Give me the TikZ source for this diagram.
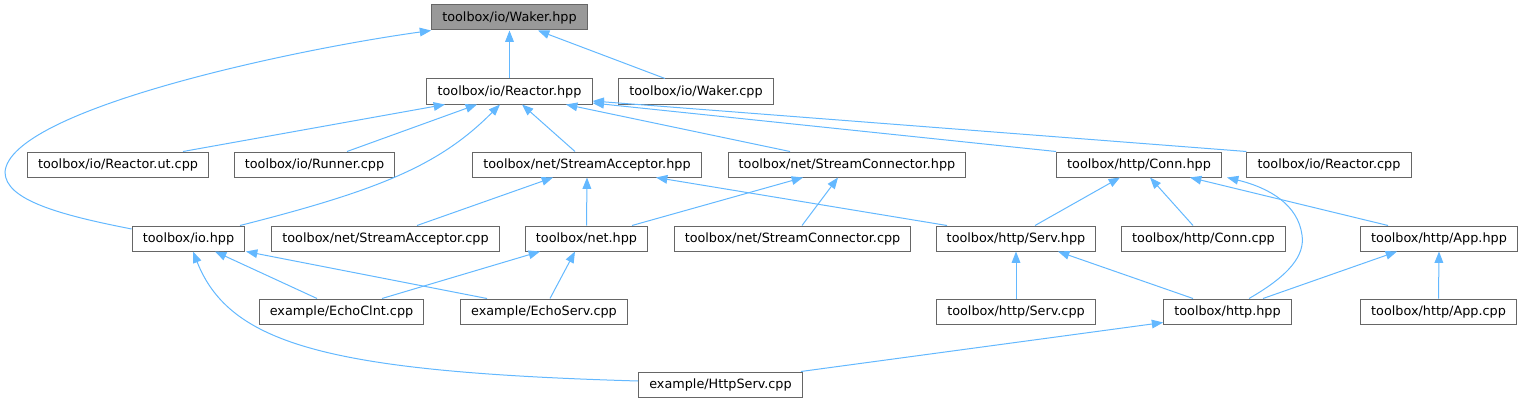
\documentclass[tikz,border=0pt]{standalone}
\usepackage{fontspec}
\setmainfont{DejaVu Sans}
\usetikzlibrary{arrows.meta,calc}
\definecolor{edgeblue}{HTML}{63B8FF}
\definecolor{boxgrey}{HTML}{666666}
\definecolor{rootgrey}{HTML}{999999}

\begin{document}
\begin{tikzpicture}[x=0.75pt, y=-0.75pt,
        fileBox/.style={draw=boxgrey, fill=white, line width=0.75pt, font=\fontsize{9.6}{11}\selectfont, inner xsep=8pt, inner ysep=0pt, minimum height=18.75pt},
        rootBox/.style={fileBox, fill=rootgrey},
        depArrow/.style={-{Triangle[length=8.5pt, width=6.5pt]}, draw=edgeblue, line width=0.75pt}
    ]
        \useasboundingbox (0,0) rectangle (1526,403);

        % Root
        \node[rootBox] (waker) at (509.5, 17.5) {toolbox/io/Waker.hpp};

        % Level 1
        \node[fileBox] (reactor) at (509.5, 91.5) {toolbox/io/Reactor.hpp};
        \node[fileBox] (wakerCpp) at (696, 91.5) {toolbox/io/Waker.cpp};

        % Level 2
        \node[fileBox] (reactorUt) at (118, 164.5) {toolbox/io/Reactor.ut.cpp};
        \node[fileBox] (runner) at (314.5, 164.5) {toolbox/io/Runner.cpp};
        \node[fileBox] (acceptor) at (587, 164.5) {toolbox/net/StreamAcceptor.hpp};
        \node[fileBox] (connector) at (847, 164.5) {toolbox/net/StreamConnector.hpp};
        \node[fileBox] (conn) at (1139, 164.5) {toolbox/http/Conn.hpp};
        \node[fileBox] (reactorCpp) at (1329, 164.5) {toolbox/io/Reactor.cpp};

        % Level 3
        \node[fileBox] (io) at (188.5, 238.5) {toolbox/io.hpp};
        \node[fileBox] (acceptorCpp) at (385.5, 238.5) {toolbox/net/StreamAcceptor.cpp};
        \node[fileBox] (net) at (586.5, 238.5) {toolbox/net.hpp};
        \node[fileBox] (connectorCpp) at (792.5, 238.5) {toolbox/net/StreamConnector.cpp};
        \node[fileBox] (serv) at (1016, 238.5) {toolbox/http/Serv.hpp};
        \node[fileBox] (connCpp) at (1203.5, 238.5) {toolbox/http/Conn.cpp};
        \node[fileBox] (app) at (1439, 238.5) {toolbox/http/App.hpp};

        % Level 4
        \node[fileBox] (echoClnt) at (341.5, 311.5) {example/EchoClnt.cpp};
        \node[fileBox] (echoServ) at (544, 311.5) {example/EchoServ.cpp};
        \node[fileBox] (servCpp) at (1016, 311.5) {toolbox/http/Serv.cpp};
        \node[fileBox] (http) at (1227.5, 311.5) {toolbox/http.hpp};
        \node[fileBox] (appCpp) at (1438.5, 311.5) {toolbox/http/App.cpp};

        % Level 5
        \node[fileBox] (httpServ) at (720.5, 384.5) {example/HttpServ.cpp};

        % Includes of Waker.hpp
        \draw[depArrow] (reactor.north) -- (waker.south);
        \draw[depArrow] ($(wakerCpp.north)+(-31,0)$) -- ($(waker.south)+(28.5,0)$);
        \draw[depArrow] ($(io.west)+(0,-9.5)$) .. controls (60,215) and (5,200) .. (5,172)
            .. controls (10,110) and (290,50) .. (waker.south west);

        % Includes of Reactor.hpp
        \draw[depArrow] ($(reactorUt.north)+(65,0)$) -- ($(reactor.south)+(-64.5,0)$);
        \draw[depArrow] ($(runner.north)+(32.5,0)$) -- ($(reactor.south)+(-32.5,0)$);
        \draw[depArrow] ($(acceptor.north)+(-12,0)$) -- ($(reactor.south)+(12.5,0)$);
        \draw[depArrow] ($(connector.north)+(-57,0)$) -- ($(reactor.south)+(56.5,0)$);
        \draw[depArrow] (conn.north west) -- ($(reactor.east)+(0,11.5)$);
        \draw[depArrow] (reactorCpp.north west) -- ($(reactor.east)+(0,9.5)$);
        \draw[depArrow] ($(io.north)+(51.5,0)$) .. controls (380,190) and (440,165) .. ($(reactor.south)+(-9.5,0)$);

        % Includes of StreamAcceptor.hpp
        \draw[depArrow] ($(acceptorCpp.north)+(31.5,0)$) -- ($(acceptor.south)+(-34,0)$);
        \draw[depArrow] (net.north) -- (acceptor.south);
        \draw[depArrow] ($(serv.north)+(-69,0)$) -- ($(acceptor.south)+(69,0)$);

        % Includes of StreamConnector.hpp
        \draw[depArrow] ($(net.north)+(45.5,0)$) -- ($(connector.south)+(-44,0)$);
        \draw[depArrow] ($(connectorCpp.north)+(9.5,0)$) -- ($(connector.south)+(-9,0)$);

        % Includes of Conn.hpp
        \draw[depArrow] ($(serv.north)+(19,0)$) -- ($(conn.south)+(-19,0)$);
        \draw[depArrow] ($(connCpp.north)+(-10.5,0)$) -- ($(conn.south)+(11,0)$);
        \draw[depArrow] ($(app.north)+(-51,0)$) -- ($(conn.south)+(51,0)$);
        \draw[depArrow] ($(http.north)+(21.5,0)$) .. controls (1290,275) and (1305,255) .. (1302,235)
            .. controls (1298,205) and (1270,188) .. ($(conn.south)+(88,0)$);

        % Includes of io.hpp
        \draw[depArrow] ($(echoClnt.north)+(-24.5,0)$) -- ($(io.south)+(26.5,0)$);
        \draw[depArrow] ($(echoServ.north)+(-57,0)$) -- ($(io.south)+(57.5,0)$);
        \draw[depArrow] ($(httpServ.west)+(0,-3.5)$) .. controls (330,372) and (230,345) .. ($(io.south)+(4.5,0)$);

        % Includes of net.hpp
        \draw[depArrow] ($(echoClnt.north)+(40.5,0)$) -- ($(net.south)+(-46.5,0)$);
        \draw[depArrow] ($(echoServ.north)+(6,0)$) -- ($(net.south)+(-11.5,0)$);

        % Includes of Serv.hpp, App.hpp, http.hpp
        \draw[depArrow] (servCpp.north) -- (serv.south);
        \draw[depArrow] ($(http.north)+(-34.5,0)$) -- ($(serv.south)+(42,0)$);
        \draw[depArrow] ($(http.north)+(35.5,0)$) -- ($(app.south)+(-42,0)$);
        \draw[depArrow] (appCpp.north) -- (app.south);
        \draw[depArrow] ($(httpServ.north east)+(-2,0)$) -- ($(http.south west)+(0,-2)$);
    \end{tikzpicture}
\end{document}
